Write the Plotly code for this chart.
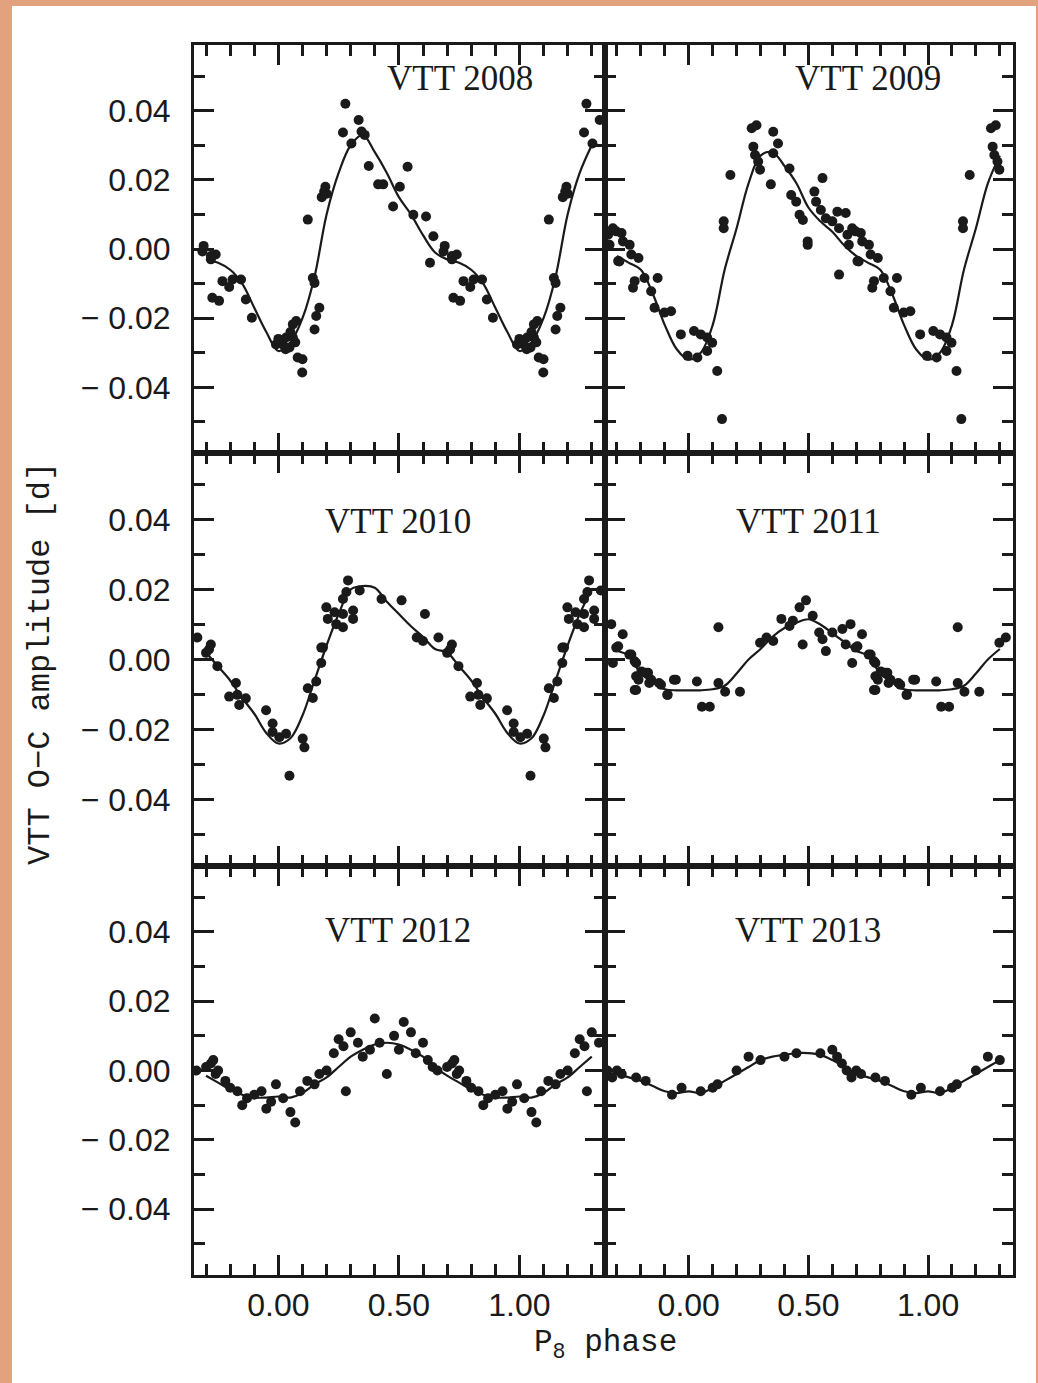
import plotly.graph_objects as go
from plotly.subplots import make_subplots

# ---------------- data (base phase in [0,1), O-C in days) ----------------
years = ["VTT 2008", "VTT 2009", "VTT 2010", "VTT 2011", "VTT 2012", "VTT 2013"]

ph_2008 = [0.72, 0.72, 0.768, 0.81, 0.845, 0.796, 0.726, 0.754, 0.865, 0.89, 0.99, 0.018,
           0.06, 0.06, 0.074, 0.032, 0.046, 0.08, 0.10, 0.099, 0.143, 0.15, 0.17, 0.157, 0.15,
           0.122, 0.18, 0.19, 0.20, 0.195, 0.268, 0.278, 0.303, 0.333, 0.345, 0.358, 0.375,
           0.414, 0.435, 0.504, 0.536, 0.476, 0.56, 0.6125, 0.643, 0.69, 0.629, 0.685, 0.74,
           0.03, 0.05, 0.07, 0.0]
oc_2008 = [-0.002, -0.003, -0.0093, -0.0088, -0.0088, -0.011, -0.0141, -0.015, -0.0146, -0.0199,
           -0.0276, -0.0276, -0.0256, -0.0218, -0.0208, -0.0256, -0.0285, -0.0314, -0.0319, -0.0357,
           -0.0084, -0.0098, -0.017, -0.0194, -0.0233, 0.0085, 0.015, 0.0166, 0.016, 0.018, 0.0337,
           0.042, 0.0305, 0.0373, 0.034, 0.033, 0.024, 0.0187, 0.0187, 0.018, 0.0238, 0.0123, 0.0099,
           0.0094, 0.0037, 0.0009, -0.004, -0.0007, -0.0016, -0.029, -0.024, -0.027, -0.026]

ph_2009 = [0.263, 0.283, 0.353, 0.373, 0.27, 0.277, 0.29, 0.298, 0.353, 0.174, 0.343, 0.421,
           0.559, 0.146, 0.146, 0.428, 0.449, 0.463, 0.477, 0.525, 0.532, 0.552, 0.573, 0.60,
           0.621, 0.656, 0.628, 0.683, 0.663, 0.697, 0.725, 0.497, 0.719, 0.753, 0.705, 0.76,
           0.79, 0.774, 0.815, 0.87, 0.767, 0.843, 0.857, 0.898, 0.926, 0.967, 0.022, 0.05,
           0.077, 0.098, 0.995, 0.036, 0.077, 0.119, 0.139, 0.497, 0.669, 0.71, 0.628]
oc_2009 = [0.0349, 0.0358, 0.0339, 0.0305, 0.0296, 0.0272, 0.0253, 0.0229, 0.0277, 0.0214, 0.0187,
           0.0233, 0.0205, 0.008, 0.006, 0.0156, 0.0137, 0.0099, 0.0084, 0.0166, 0.0137, 0.0113,
           0.0089, 0.008, 0.0108, 0.0104, 0.006, 0.006, 0.0041, 0.0051, 0.0022, 0.0022, 0.0046,
           0.0012, -0.0035, -0.0016, -0.0026, -0.0093, -0.0084, -0.0084, -0.0112, -0.0122, -0.017,
           -0.0184, -0.018, -0.0247, -0.0237, -0.0247, -0.0256, -0.0271, -0.0309, -0.0314, -0.0295,
           -0.0353, -0.0492, 0.0012, 0.0012, -0.0036, -0.0074]

ph_2010 = [0.289, 0.282, 0.3375, 0.268, 0.199, 0.205, 0.233, 0.268, 0.31, 0.31, 0.24, 0.268,
           0.185, 0.428, 0.511, 0.608, 0.574, 0.60, 0.664, 0.72, 0.70, 0.7125, 0.747, 0.824,
           0.796, 0.83, 0.865, 0.8375, 0.949, 0.976, 0.976, 0.004, 0.032, 0.101, 0.108, 0.046,
           0.122, 0.157, 0.143, 0.178, 0.178]
oc_2010 = [0.0226, 0.0193, 0.0197, 0.0173, 0.0149, 0.0116, 0.0135, 0.013, 0.014, 0.0116, 0.0101,
           0.0092, 0.0034, 0.0173, 0.0169, 0.013, 0.0063, 0.0053, 0.0063, 0.0043, 0.0019, 0.0029,
           -0.0019, -0.0067, -0.0106, -0.0101, -0.0111, -0.013, -0.0145, -0.0183, -0.0207, -0.0222,
           -0.0212, -0.0226, -0.0251, -0.0332, -0.0082, -0.0063, -0.011, 0.0034, -0.001]

ph_2011 = [0.49, 0.463, 0.518, 0.387, 0.421, 0.435, 0.325, 0.353, 0.298, 0.476, 0.545, 0.559,
           0.573, 0.60, 0.642, 0.676, 0.724, 0.656, 0.697, 0.683, 0.752, 0.78, 0.78, 0.82, 0.835,
           0.876, 0.78, 0.91, 0.938, 0.034, 0.124, 0.152, 0.214, 0.124, 0.055, 0.088, 0.705,
           0.76, 0.774, 0.802, 0.83, 0.79, 0.774, 0.843, 0.884, 0.912, 0.946]
oc_2011 = [0.0169, 0.0149, 0.0125, 0.0116, 0.0096, 0.0111, 0.0063, 0.0053, 0.0048, 0.0043, 0.0077,
           0.0058, 0.0024, 0.0077, 0.0087, 0.0101, 0.0072, 0.0043, 0.0034, -0.001, 0.0014, -0.001,
           -0.0048, -0.0038, -0.0067, -0.0067, -0.0087, -0.0101, -0.0058, -0.0063, -0.0067, -0.0092,
           -0.0092, 0.0092, -0.0135, -0.0135, 0.0038, 0.0014, -0.0005, -0.0034, -0.0038, -0.0058,
           -0.0087, -0.0058, -0.0072, -0.0101, -0.0058]

ph_2012 = [0.70, 0.72, 0.73, 0.74, 0.75, 0.78, 0.80, 0.83, 0.85, 0.87, 0.90, 0.93, 0.95, 0.97,
           0.99, 0.02, 0.05, 0.07, 0.09, 0.12, 0.15, 0.17, 0.20, 0.23, 0.25, 0.27, 0.28, 0.30,
           0.33, 0.35, 0.38, 0.40, 0.42, 0.45, 0.48, 0.50, 0.52, 0.55, 0.57, 0.60, 0.62, 0.64, 0.66]
oc_2012 = [0.001, 0.002, 0.003, -0.001, 0.000, -0.003, -0.005, -0.006, -0.010, -0.008, -0.007,
           -0.006, -0.011, -0.009, -0.004, -0.008, -0.012, -0.015, -0.006, -0.003, -0.004, -0.001,
           0.000, 0.005, 0.009, 0.007, -0.006, 0.011, 0.008, 0.004, 0.006, 0.015, 0.008, -0.001,
           0.010, 0.006, 0.014, 0.011, 0.005, 0.008, 0.003, 0.001, 0.000]

ph_2013 = [0.70, 0.72, 0.78, 0.82, 0.93, 0.97, 0.05, 0.10, 0.12, 0.20, 0.25, 0.30, 0.40, 0.45,
           0.55, 0.60, 0.62, 0.64, 0.66, 0.68]
oc_2013 = [0.000, -0.001, -0.002, -0.003, -0.007, -0.005, -0.006, -0.005, -0.004, 0.000, 0.004,
           0.003, 0.004, 0.005, 0.005, 0.006, 0.004, 0.002, 0.000, -0.002]

# fitted curves, sampled at fit_ph
fit_ph = [0.00, 0.05, 0.10, 0.15, 0.20, 0.25, 0.30, 0.35, 0.40, 0.45, 0.50,
          0.55, 0.60, 0.65, 0.70, 0.75, 0.80, 0.85, 0.90, 0.95]
fit_2008 = [-0.0295, -0.027, -0.020, -0.008, 0.010, 0.022, 0.030, 0.033, 0.028, 0.022, 0.015,
            0.010, 0.004, -0.001, -0.003, -0.004, -0.006, -0.010, -0.017, -0.024]
fit_2009 = [-0.032, -0.030, -0.022, -0.006, 0.006, 0.019, 0.027, 0.028, 0.024, 0.019, 0.012,
            0.008, 0.005, 0.001, -0.002, -0.004, -0.006, -0.013, -0.022, -0.029]
fit_2010 = [-0.024, -0.0225, -0.016, -0.006, 0.004, 0.013, 0.020, 0.021, 0.0205, 0.0165, 0.013,
            0.0095, 0.0065, 0.003, 0.002, -0.002, -0.006, -0.011, -0.0155, -0.021]
fit_2011 = [-0.0088, -0.0088, -0.0085, -0.0075, -0.004, 0.000, 0.003, 0.0065, 0.009, 0.0105,
            0.0115, 0.010, 0.0075, 0.005, 0.0025, 0.001, -0.004, -0.0065, -0.0085, -0.0088]
fit_2012 = [-0.0075, -0.0078, -0.0065, -0.004, -0.002, 0.001, 0.004, 0.006, 0.0075, 0.008, 0.0075,
            0.006, 0.004, 0.001, -0.0015, -0.0035, -0.0055, -0.007, -0.0078, -0.0078]
fit_2013 = [-0.006, -0.0065, -0.005, -0.003, -0.001, 0.001, 0.003, 0.004, 0.0045, 0.005, 0.005,
            0.0045, 0.003, 0.001, -0.001, -0.002, -0.003, -0.0045, -0.006, -0.0065]

points = [(ph_2008, oc_2008), (ph_2009, oc_2009), (ph_2010, oc_2010),
          (ph_2011, oc_2011), (ph_2012, oc_2012), (ph_2013, oc_2013)]
fits = [fit_2008, fit_2009, fit_2010, fit_2011, fit_2012, fit_2013]

y_ticks = [-0.04, -0.02, 0.0, 0.02, 0.04]
y_ticktext = ["\u2212 0.04", "\u2212 0.02", "0.00", "0.02", "0.04"]
x_ticks = [0.0, 0.5, 1.0]
x_ticktext = ["0.00", "0.50", "1.00"]


def fold(ph, val, lo, hi):
    xs, ys = [], []
    for p, v in zip(ph, val):
        for k in (-1, 0, 1):
            q = p + k
            if lo <= q <= hi:
                xs.append(q)
                ys.append(v)
    return xs, ys


def fold_curve(ph, val, lo, hi):
    pairs = []
    for k in (-1, 0, 1, 2):
        for p, v in zip(ph, val):
            q = p + k
            if lo - 1e-9 <= q <= hi + 1e-9:
                pairs.append((q, v))
    pairs.sort()
    return [a for a, _ in pairs], [b for _, b in pairs]


# ---------------- figure ----------------
W, H = 1038, 1383
ORANGE = "#E2A27E"
INK = "#1a1a1a"
MONO = "Liberation Mono"
SANS = "Liberation Sans"
SERIF = "Liberation Serif"

fig = make_subplots(rows=3, cols=2, horizontal_spacing=0, vertical_spacing=0)

for i, ((ph, val), fit) in enumerate(zip(points, fits)):
    r, c = i // 2 + 1, i % 2 + 1
    cx, cy = fold_curve(fit_ph, fit, -0.30, 1.30)
    fig.add_trace(go.Scatter(x=cx, y=cy, mode="lines", line=dict(color=INK, width=2.2),
                             line_shape="spline", showlegend=False, hoverinfo="skip"), row=r, col=c)
    px, py = fold(ph, val, -0.34, 1.34)
    fig.add_trace(go.Scatter(x=px, y=py, mode="markers",
                             marker=dict(color=INK, size=10, line=dict(width=0)),
                             showlegend=False), row=r, col=c)

# panel geometry in pixels
col_px = [(194, 605), (605, 1013)]
row_px = [(45, 453), (453, 866), (866, 1275)]
x_rng = [-0.35, 1.355]
y_rng = [-0.059, 0.059]

for i in range(6):
    r, c = i // 2, i % 2
    n = i + 1
    xa = "xaxis" if n == 1 else f"xaxis{n}"
    ya = "yaxis" if n == 1 else f"yaxis{n}"
    x0, x1 = col_px[c]
    y0, y1 = row_px[r]
    fig.layout[xa].update(
        domain=[x0 / W, x1 / W], range=x_rng, showgrid=False, zeroline=False,
        showline=True, linecolor=INK, linewidth=3, mirror="allticks",
        ticks="inside", ticklen=20, tickwidth=2.5, tickcolor=INK,
        tickvals=x_ticks, ticktext=x_ticktext,
        showticklabels=(r == 2), ticklabelstandoff=0,
        tickfont=dict(family=SANS, size=32, color=INK),
        minor=dict(ticks="inside", ticklen=11, tickwidth=2.5, dtick=0.1, tick0=0.0,
                   tickcolor=INK, showgrid=False),
    )
    fig.layout[ya].update(
        domain=[1 - y1 / H, 1 - y0 / H], range=y_rng, showgrid=False, zeroline=False,
        showline=True, linecolor=INK, linewidth=3, mirror="allticks",
        ticks="inside", ticklen=20, tickwidth=2.5, tickcolor=INK,
        tickvals=y_ticks, ticktext=y_ticktext,
        showticklabels=(c == 0), ticklabelstandoff=14,
        tickfont=dict(family=SANS, size=32, color=INK),
        minor=dict(ticks="inside", ticklen=11, tickwidth=2.5, dtick=0.01, tick0=0.0,
                   tickcolor=INK, showgrid=False),
    )

# panel titles
title_pos = [(460, 78), (868, 78), (398, 521), (808, 521), (398, 931), (808, 931)]
for name, (tx, ty) in zip(years, title_pos):
    fig.add_annotation(x=tx / W, y=1 - ty / H, xref="paper", yref="paper", text=name,
                       showarrow=False, xanchor="center", yanchor="middle",
                       font=dict(family=SERIF, size=35, color=INK))

# axis titles
fig.add_annotation(x=605 / W, y=1 - 1345 / H, xref="paper", yref="paper",
                   text="P<sub>8</sub> phase", showarrow=False, xanchor="center", yanchor="middle",
                   font=dict(family=MONO, size=31, color=INK))
fig.add_annotation(x=40 / W, y=1 - 664 / H, xref="paper", yref="paper",
                   text="VTT O\u2212C amplitude [d]", showarrow=False, textangle=-90,
                   xanchor="center", yanchor="middle",
                   font=dict(family=MONO, size=32, color=INK))

# white page inside the orange frame
fig.add_shape(type="rect", xref="paper", yref="paper", x0=12 / W, x1=1036 / W,
              y0=-0.01, y1=1 - 6 / H, fillcolor="white", line=dict(width=0), layer="below")

fig.update_layout(width=W, height=H, margin=dict(l=0, r=0, t=0, b=0),
                  paper_bgcolor=ORANGE, plot_bgcolor="white")

fig.write_html("out.html", config={"displayModeBar": False},
               post_script="document.body.style.margin='0';document.body.style.padding='0';")
